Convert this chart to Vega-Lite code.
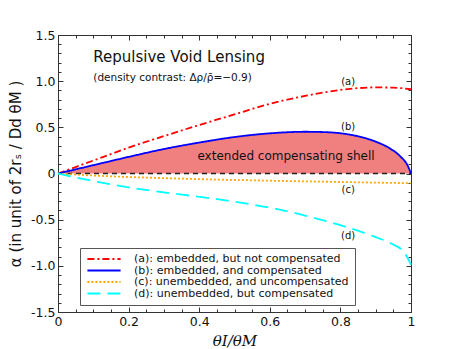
{
  "$schema": "https://vega.github.io/schema/vega-lite/v6.json",
  "width": 353,
  "height": 277,
  "autosize": "none",
  "padding": {"left": 58, "top": 35, "right": 46, "bottom": 37},
  "background": "white",
  "config": {
    "view": {"stroke": "#333"},
    "font": "DejaVu Sans",
    "axis": {"domainColor": "#333", "tickColor": "#333", "labelColor": "#111", "labelFont": "DejaVu Sans", "labelFontSize": 12.5, "grid": false}
  },
  "data": {"values": [{"n": 1}]},
  "datasets": {
    "curves": [
      {"k": "a", "s": "(a): embedded, but not compensated", "x": 0, "y": 0},
      {"k": "a", "s": "(a): embedded, but not compensated", "x": 0.05, "y": 0.07},
      {"k": "a", "s": "(a): embedded, but not compensated", "x": 0.1, "y": 0.14},
      {"k": "a", "s": "(a): embedded, but not compensated", "x": 0.15, "y": 0.21},
      {"k": "a", "s": "(a): embedded, but not compensated", "x": 0.2, "y": 0.28},
      {"k": "a", "s": "(a): embedded, but not compensated", "x": 0.3, "y": 0.405},
      {"k": "a", "s": "(a): embedded, but not compensated", "x": 0.4, "y": 0.525},
      {"k": "a", "s": "(a): embedded, but not compensated", "x": 0.5, "y": 0.64},
      {"k": "a", "s": "(a): embedded, but not compensated", "x": 0.6, "y": 0.755},
      {"k": "a", "s": "(a): embedded, but not compensated", "x": 0.7, "y": 0.84},
      {"k": "a", "s": "(a): embedded, but not compensated", "x": 0.8, "y": 0.905},
      {"k": "a", "s": "(a): embedded, but not compensated", "x": 0.9, "y": 0.932},
      {"k": "a", "s": "(a): embedded, but not compensated", "x": 0.95, "y": 0.93},
      {"k": "a", "s": "(a): embedded, but not compensated", "x": 1, "y": 0.912},
      {"k": "b", "s": "(b): embedded, and compensated", "x": 0, "y": 0},
      {"k": "b", "s": "(b): embedded, and compensated", "x": 0.05, "y": 0.045},
      {"k": "b", "s": "(b): embedded, and compensated", "x": 0.1, "y": 0.09},
      {"k": "b", "s": "(b): embedded, and compensated", "x": 0.2, "y": 0.18},
      {"k": "b", "s": "(b): embedded, and compensated", "x": 0.3, "y": 0.265},
      {"k": "b", "s": "(b): embedded, and compensated", "x": 0.4, "y": 0.335},
      {"k": "b", "s": "(b): embedded, and compensated", "x": 0.5, "y": 0.395},
      {"k": "b", "s": "(b): embedded, and compensated", "x": 0.6, "y": 0.435},
      {"k": "b", "s": "(b): embedded, and compensated", "x": 0.7, "y": 0.452},
      {"k": "b", "s": "(b): embedded, and compensated", "x": 0.75, "y": 0.449},
      {"k": "b", "s": "(b): embedded, and compensated", "x": 0.8, "y": 0.436},
      {"k": "b", "s": "(b): embedded, and compensated", "x": 0.85, "y": 0.403},
      {"k": "b", "s": "(b): embedded, and compensated", "x": 0.9, "y": 0.345},
      {"k": "b", "s": "(b): embedded, and compensated", "x": 0.94, "y": 0.272},
      {"k": "b", "s": "(b): embedded, and compensated", "x": 0.97, "y": 0.185},
      {"k": "b", "s": "(b): embedded, and compensated", "x": 0.99, "y": 0.09},
      {"k": "b", "s": "(b): embedded, and compensated", "x": 1, "y": 0},
      {"k": "c", "s": "(c): unembedded, and uncompensated", "x": 0, "y": 0},
      {"k": "c", "s": "(c): unembedded, and uncompensated", "x": 0.1, "y": -0.022},
      {"k": "c", "s": "(c): unembedded, and uncompensated", "x": 0.2, "y": -0.038},
      {"k": "c", "s": "(c): unembedded, and uncompensated", "x": 0.3, "y": -0.05},
      {"k": "c", "s": "(c): unembedded, and uncompensated", "x": 0.4, "y": -0.061},
      {"k": "c", "s": "(c): unembedded, and uncompensated", "x": 0.5, "y": -0.07},
      {"k": "c", "s": "(c): unembedded, and uncompensated", "x": 0.6, "y": -0.078},
      {"k": "c", "s": "(c): unembedded, and uncompensated", "x": 0.7, "y": -0.085},
      {"k": "c", "s": "(c): unembedded, and uncompensated", "x": 0.8, "y": -0.092},
      {"k": "c", "s": "(c): unembedded, and uncompensated", "x": 0.9, "y": -0.099},
      {"k": "c", "s": "(c): unembedded, and uncompensated", "x": 1, "y": -0.105},
      {"k": "d", "s": "(d): unembedded, but compensated", "x": 0, "y": 0},
      {"k": "d", "s": "(d): unembedded, but compensated", "x": 0.05, "y": -0.042},
      {"k": "d", "s": "(d): unembedded, but compensated", "x": 0.1, "y": -0.082},
      {"k": "d", "s": "(d): unembedded, but compensated", "x": 0.2, "y": -0.15},
      {"k": "d", "s": "(d): unembedded, but compensated", "x": 0.3, "y": -0.205},
      {"k": "d", "s": "(d): unembedded, but compensated", "x": 0.4, "y": -0.252},
      {"k": "d", "s": "(d): unembedded, but compensated", "x": 0.5, "y": -0.305},
      {"k": "d", "s": "(d): unembedded, but compensated", "x": 0.6, "y": -0.37},
      {"k": "d", "s": "(d): unembedded, but compensated", "x": 0.7, "y": -0.455},
      {"k": "d", "s": "(d): unembedded, but compensated", "x": 0.8, "y": -0.56},
      {"k": "d", "s": "(d): unembedded, but compensated", "x": 0.9, "y": -0.69},
      {"k": "d", "s": "(d): unembedded, but compensated", "x": 0.95, "y": -0.77},
      {"k": "d", "s": "(d): unembedded, but compensated", "x": 0.98, "y": -0.85},
      {"k": "d", "s": "(d): unembedded, but compensated", "x": 1, "y": -0.99}
    ]
  },
  "resolve": {"axis": {"x": "independent", "y": "independent"}},
  "layer": [
    {
      "data": {"name": "curves"},
      "transform": [{"filter": "datum.k == 'b'"}],
      "mark": {"type": "area", "interpolate": "monotone", "color": "#F08080", "opacity": 1},
      "encoding": {
        "x": {"field": "x", "type": "quantitative",
          "scale": {"domain": [0, 1], "nice": false, "zero": false},
          "axis": {"orient": "bottom",
            "values": [0,0.05,0.1,0.15,0.2,0.25,0.3,0.35,0.4,0.45,0.5,0.55,0.6,0.65,0.7,0.75,0.8,0.85,0.9,0.95,1],
            "labelExpr": "abs(datum.value*5 - round(datum.value*5)) < 0.001 ? (datum.value == 0 ? '0' : (datum.value == 1 ? '1' : format(datum.value, '.1f'))) : ''",
            "tickSize": {"condition": {"test": "abs(datum.value*5 - round(datum.value*5)) < 0.001", "value": -5}, "value": -3},
            "labelPadding": 8, "labelOverlap": false, "labelFlush": false,
            "title": "θI/θM", "titleFont": "DejaVu Serif", "titleFontStyle": "italic", "titleFontWeight": "normal", "titleFontSize": 15, "titlePadding": 4, "titleColor": "#111"}},
        "y": {"field": "y", "type": "quantitative",
          "scale": {"domain": [-1.5, 1.5], "nice": false, "zero": false},
          "axis": {"orient": "left",
            "values": [-1.5,-1.4,-1.3,-1.2,-1.1,-1,-0.9,-0.8,-0.7,-0.6,-0.5,-0.4,-0.3,-0.2,-0.1,0,0.1,0.2,0.3,0.4,0.5,0.6,0.7,0.8,0.9,1,1.1,1.2,1.3,1.4,1.5],
            "labelExpr": "abs(datum.value*2 - round(datum.value*2)) < 0.001 ? (abs(datum.value) < 0.001 ? '0' : replace(format(datum.value, '.1f'), '−', '-')) : ''",
            "tickSize": {"condition": {"test": "abs(datum.value*2 - round(datum.value*2)) < 0.001", "value": -5}, "value": -3},
            "labelPadding": 8, "labelOverlap": false, "labelFlush": false,
            "title": "α   (in unit of  2rₛ / Dd θM )", "titleFont": "DejaVu Sans", "titleFontWeight": "normal", "titleFontSize": 15, "titlePadding": 7, "titleColor": "#111"}},
        "y2": {"datum": 0}
      }
    },
    {
      "mark": {"type": "rule", "color": "#222", "strokeDash": [5, 4], "strokeWidth": 1.5},
      "encoding": {
        "x": {"datum": 0, "type": "quantitative",
          "axis": {"orient": "top", "values": [0,0.05,0.1,0.15,0.2,0.25,0.3,0.35,0.4,0.45,0.5,0.55,0.6,0.65,0.7,0.75,0.8,0.85,0.9,0.95,1],
            "labels": false, "title": null,
            "tickSize": {"condition": {"test": "abs(datum.value*5 - round(datum.value*5)) < 0.001", "value": -5}, "value": -3}}},
        "x2": {"datum": 1},
        "y": {"datum": 0, "type": "quantitative",
          "axis": {"orient": "right", "values": [-1.5,-1.4,-1.3,-1.2,-1.1,-1,-0.9,-0.8,-0.7,-0.6,-0.5,-0.4,-0.3,-0.2,-0.1,0,0.1,0.2,0.3,0.4,0.5,0.6,0.7,0.8,0.9,1,1.1,1.2,1.3,1.4,1.5],
            "labels": false, "title": null,
            "tickSize": {"condition": {"test": "abs(datum.value*2 - round(datum.value*2)) < 0.001", "value": -5}, "value": -3}}}
      }
    },
    {
      "data": {"name": "curves"},
      "mark": {"type": "line", "interpolate": "monotone", "strokeWidth": 1.8},
      "encoding": {
        "x": {"field": "x", "type": "quantitative", "axis": null},
        "y": {"field": "y", "type": "quantitative", "axis": null},
        "color": {"field": "s", "type": "nominal",
          "scale": {"domain": ["(a): embedded, but not compensated", "(b): embedded, and compensated", "(c): unembedded, and uncompensated", "(d): unembedded, but compensated"],
                    "range": ["#FF0000", "#0000FF", "#FFA500", "#00FFFF"]},
          "legend": {"orient": "none", "legendX": 22, "legendY": 213, "title": null,
            "symbolType": "stroke", "symbolSize": 1100, "symbolStrokeWidth": 2, "clipHeight": 10,
            "labelFontSize": 11, "labelFont": "DejaVu Sans", "labelColor": "#111", "labelOffset": 12, "labelLimit": 400,
            "rowPadding": 0.5, "padding": 6, "fillColor": "white", "strokeColor": "#555"}},
        "strokeDash": {"field": "s", "type": "nominal",
          "scale": {"domain": ["(a): embedded, but not compensated", "(b): embedded, and compensated", "(c): unembedded, and uncompensated", "(d): unembedded, but compensated"],
                    "range": [[7, 3, 2, 3], [1, 0], [2, 2], [13, 7]]},
          "legend": {"orient": "none", "legendX": 22, "legendY": 213, "title": null,
            "symbolType": "stroke", "symbolSize": 1100, "symbolStrokeWidth": 2, "clipHeight": 10,
            "labelFontSize": 11, "labelFont": "DejaVu Sans", "labelColor": "#111", "labelOffset": 12, "labelLimit": 400,
            "rowPadding": 0.5, "padding": 6, "fillColor": "white", "strokeColor": "#555"}}
      }
    },
    {
      "mark": {"type": "text", "align": "left", "baseline": "middle", "fontSize": 15, "font": "DejaVu Sans", "color": "#111"},
      "encoding": {"x": {"datum": 0.1, "axis": null}, "y": {"datum": 1.26, "axis": null}, "text": {"value": "Repulsive Void Lensing"}}
    },
    {
      "mark": {"type": "text", "align": "left", "baseline": "middle", "fontSize": 10.5, "font": "DejaVu Sans", "color": "#111"},
      "encoding": {"x": {"datum": 0.1, "axis": null}, "y": {"datum": 1.035, "axis": null}, "text": {"value": "(density contrast: Δρ/ρ̄=−0.9)"}}
    },
    {
      "mark": {"type": "text", "align": "center", "baseline": "middle", "fontSize": 12, "font": "DejaVu Sans", "color": "#111"},
      "encoding": {"x": {"datum": 0.646, "axis": null}, "y": {"datum": 0.185, "axis": null}, "text": {"value": "extended compensating shell"}}
    },
    {
      "mark": {"type": "text", "align": "center", "baseline": "middle", "fontSize": 10, "font": "DejaVu Sans", "color": "#111"},
      "encoding": {"x": {"datum": 0.822, "axis": null}, "y": {"datum": 0.99, "axis": null}, "text": {"value": "(a)"}}
    },
    {
      "mark": {"type": "text", "align": "center", "baseline": "middle", "fontSize": 10, "font": "DejaVu Sans", "color": "#111"},
      "encoding": {"x": {"datum": 0.822, "axis": null}, "y": {"datum": 0.507, "axis": null}, "text": {"value": "(b)"}}
    },
    {
      "mark": {"type": "text", "align": "center", "baseline": "middle", "fontSize": 10, "font": "DejaVu Sans", "color": "#111"},
      "encoding": {"x": {"datum": 0.822, "axis": null}, "y": {"datum": -0.179, "axis": null}, "text": {"value": "(c)"}}
    },
    {
      "mark": {"type": "text", "align": "center", "baseline": "middle", "fontSize": 10, "font": "DejaVu Sans", "color": "#111"},
      "encoding": {"x": {"datum": 0.822, "axis": null}, "y": {"datum": -0.674, "axis": null}, "text": {"value": "(d)"}}
    }
  ]
}
